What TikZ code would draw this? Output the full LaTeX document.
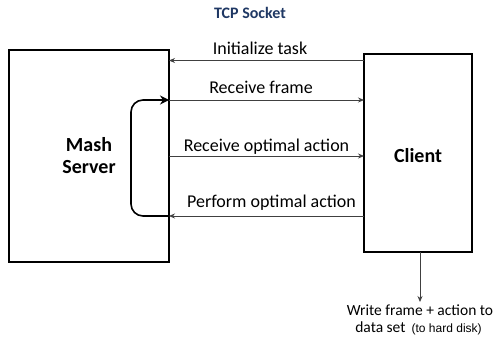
\documentclass[tikz,border=0pt]{standalone}
\usepackage{fontspec}
\setmainfont{Carlito}
\newfontfamily\arialf{Liberation Sans}
\usetikzlibrary{arrows.meta}
\definecolor{titleblue}{RGB}{31,56,100}
\definecolor{msggray}{RGB}{64,64,64}
\tikzset{
  box/.style={draw=black, line width=2pt, inner sep=0pt},
  msg/.style={draw=msggray, line width=0.8pt, -{Stealth[length=6pt,width=5pt]}},
  lbl/.style={font=\fontsize{18}{21}\selectfont, inner sep=0pt, anchor=base},
  botlbl/.style={font=\fontsize{15.5}{18}\selectfont, inner sep=0pt, anchor=base},
  boxlbl/.style={font=\fontsize{20}{24}\selectfont\bfseries, align=center},
}
\begin{document}
\begin{tikzpicture}[x=1pt,y=-1pt]
\useasboundingbox (0,0) rectangle (494,340);
% boxes
\draw[box] (9,50) rectangle (169,262);
\draw[box] (364,54) rectangle (472,252);
\node[boxlbl] (server) at (89,156) {Mash\\[-2pt]Server};
\node[boxlbl] (client) at (418,156) {Client};
\node[font=\fontsize{16}{19}\selectfont\bfseries, text=titleblue] (title) at (250,13) {TCP Socket};
% anchor coordinates
\coordinate (r1) at (364,60.5);
\coordinate (l1) at (169,60.5);
\coordinate (l2) at (169,100);
\coordinate (r2) at (364,100);
\coordinate (l3) at (169,156);
\coordinate (r3) at (364,156);
\coordinate (r4) at (364,216);
\coordinate (l4) at (169,216);
\coordinate (cb) at (420,252);
\coordinate (ce) at (420,302);
% messages
\draw[msg] (r1) -- (l1);
\draw[msg] (l2) -- (r2);
\draw[msg] (l3) -- (r3);
\draw[msg] (r4) -- (l4);
\draw[msg] (cb) -- (ce);
% labels
\node[lbl] (t1) at (260,54) {Initialize task};
\node[lbl] (t2) at (261,93) {Receive frame};
\node[lbl] (t3) at (266.5,151) {Receive optimal action};
\node[lbl] (t4) at (271.5,207) {Perform optimal action};
\node[botlbl] (t5) at (420,315) {Write frame + action to};
\node[botlbl] (t6) at (418.5,332) {data set \,{\arialf\fontsize{12}{14}\selectfont(to hard disk)}};
% loop
\draw[line width=1.6pt, rounded corners=12pt, -{Stealth[length=9pt,width=9pt]}]
  (l4) -- (131,216) -- (131,100) -- (l2);
\end{tikzpicture}
\end{document}
